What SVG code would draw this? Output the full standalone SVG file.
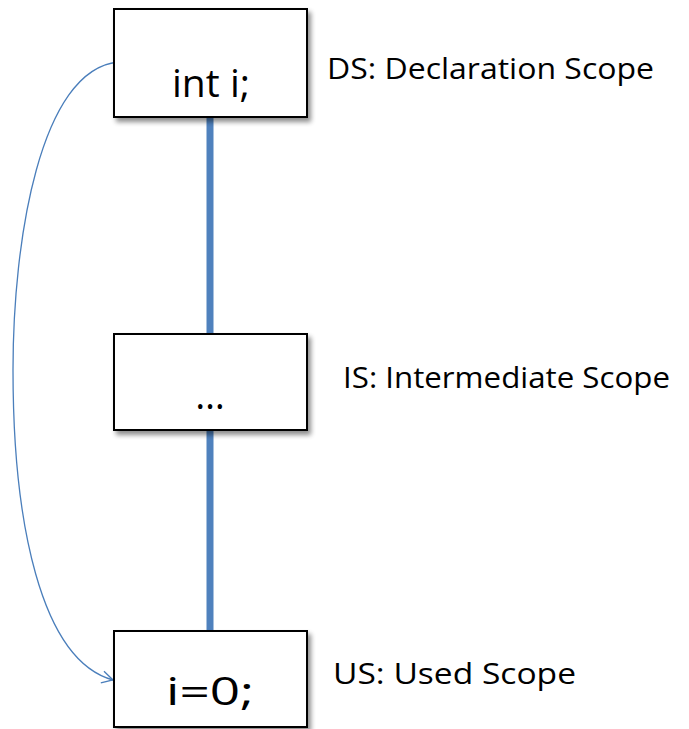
<svg xmlns="http://www.w3.org/2000/svg" width="689" height="729" viewBox="0 0 689 729">
  <style>
    .box { fill: #ffffff; stroke: #000000; stroke-width: 2; }
    .code { font-family: "Open Sans", "Liberation Sans", sans-serif; font-size: 38px; fill: #000000; text-anchor: middle; }
    .label { font-family: "Open Sans", "Liberation Sans", sans-serif; font-size: 29px; fill: #000000; }
    .link { stroke: #4f81bd; stroke-width: 7; fill: none; }
    .ref { stroke: #4a7ebb; stroke-width: 1.3; fill: none; }
  </style>
  <defs>
    <filter id="shadow" x="-10%" y="-10%" width="130%" height="140%">
      <feGaussianBlur in="SourceAlpha" stdDeviation="2.5"/>
      <feOffset dx="3" dy="4" result="b"/>
      <feComponentTransfer><feFuncA type="linear" slope="0.45"/></feComponentTransfer>
      <feMerge><feMergeNode/><feMergeNode in="SourceGraphic"/></feMerge>
    </filter>
    <marker id="openArrow" markerWidth="14" markerHeight="14" refX="12" refY="7" orient="auto" markerUnits="userSpaceOnUse">
      <path d="M1,1 L12,7 L1,13" fill="none" stroke="#4a7ebb" stroke-width="1.3"/>
    </marker>
  </defs>

  <!-- scope chain links -->
  <g id="connectors">
    <line class="link" x1="210" y1="117" x2="210" y2="333"/>
    <line class="link" x1="210" y1="430" x2="210" y2="631"/>
    <path class="ref" d="M118,62 C40,70 13,240 13,370 C13,520 40,660 113,680" marker-end="url(#openArrow)"/>
  </g>

  <g id="declaration-scope">
    <rect class="box" x="114" y="9" width="193" height="108" filter="url(#shadow)"/>
    <text class="code" x="211" y="97" textLength="78" lengthAdjust="spacingAndGlyphs">int i;</text>
  </g>

  <g id="intermediate-scope">
    <rect class="box" x="114" y="334" width="193" height="96" filter="url(#shadow)"/>
    <text class="code" x="210" y="409">…</text>
  </g>

  <g id="used-scope">
    <rect class="box" x="114" y="631" width="193" height="96" filter="url(#shadow)"/>
    <text class="code" x="210" y="705" textLength="88" lengthAdjust="spacingAndGlyphs">i=0;</text>
  </g>

  <g id="labels">
    <text class="label" x="327" y="79" textLength="327" lengthAdjust="spacingAndGlyphs">DS: Declaration Scope</text>
    <text class="label" x="343" y="388" textLength="327" lengthAdjust="spacingAndGlyphs">IS: Intermediate Scope</text>
    <text class="label" x="333" y="684" textLength="243" lengthAdjust="spacingAndGlyphs">US: Used Scope</text>
  </g>
</svg>
